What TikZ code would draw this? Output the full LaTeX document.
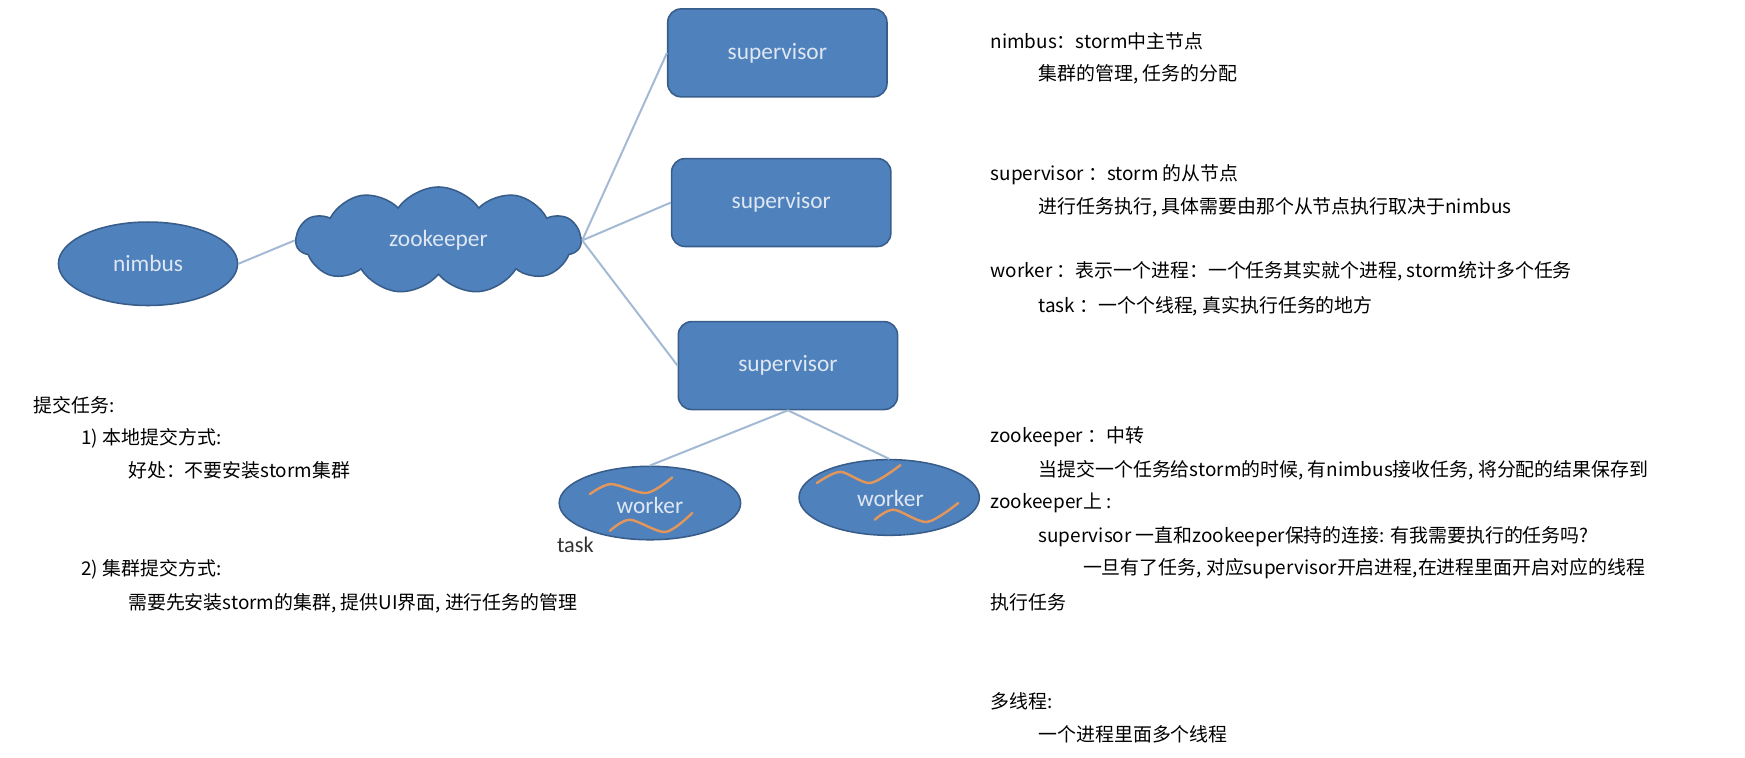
\documentclass[tikz,border=0pt]{standalone}
\usepackage{fontspec}
\newfontfamily\zhfont{Noto Sans CJK SC}
\newfontfamily\drawfont{Carlito}
\usetikzlibrary{shapes.geometric, shapes.symbols, positioning}
\definecolor{boxblue}{RGB}{79,129,189}
\definecolor{boxline}{RGB}{56,93,138}
\definecolor{boxtext}{RGB}{222,231,242}
\definecolor{linkblue}{RGB}{164,186,212}
\definecolor{waveorange}{RGB}{226,150,90}

\begin{document}
\begin{tikzpicture}[x=1pt, y=-1pt, inner sep=0pt, %scale in px
  every node/.style = {font=\drawfont\fontsize{21}{24}\selectfont, text=boxtext},
  master/.style = {ellipse, draw=boxline, fill=boxblue, line width=1.4pt},
  slave/.style = {rectangle, rounded corners=12pt, draw=boxline, fill=boxblue, line width=1.4pt,
    minimum width=197pt, minimum height=79pt},
  relay/.style = {cloud, cloud puffs=11, cloud puff arc=110, aspect=2.7, draw=boxline, fill=boxblue,
    line width=1.4pt, minimum width=256pt, minimum height=96pt},
  note/.style = {anchor=west, text=black, font=\zhfont\fontsize{17}{20}\selectfont},
  link/.style = {draw=linkblue, line width=1.8pt},
  wave/.style = {draw=waveorange, line width=2.2pt, line cap=round}]
  \useasboundingbox (0,0) rectangle (1568,681);

  % cluster
  \node[master, minimum width=161pt, minimum height=75pt] (nimbus) at (133,237) {nimbus};
  \node[relay] (zk) at (394,216) {zookeeper};
  \node[slave] (sup1) at (698.5,47.5) {supervisor};
  \node[slave] (sup2) at (702,182) {supervisor};
  \node[slave] (sup3) at (708,328.5) {supervisor};
  \node[master, minimum width=163pt, minimum height=66pt] (w1) at (584,452) {};
  \node[master, minimum width=162pt, minimum height=68pt] (w2) at (799,447) {};
  \node[text=black!80, font=\drawfont\fontsize{20}{24}\selectfont] (task) at (517,490) {task};

  \draw[link] (nimbus.east) -- (zk.west);
  \draw[link] (zk.east) -- (sup1.west);
  \draw[link] (zk.east) -- (sup2.west);
  \draw[link] (zk.east) -- (sup3.west);
  \draw[link] (sup3.south) -- (w1.north);
  \draw[link] (sup3.south) -- (w2.north);

  % threads in the workers
  \begin{scope}[shift={(w1.center)}]
    \draw[wave] plot[smooth] coordinates {(-54,-8) (-35,-17) (-3,-9) (20,-23)};
    \draw[wave] plot[smooth] coordinates {(-36,25) (-18,15) (14,26) (38,9)};
    \node (w1label) at (0,2) {worker};
  \end{scope}
  \begin{scope}[shift={(w2.center)}]
    \draw[wave] plot[smooth] coordinates {(-65,-13) (-44,-23) (-17,-13) (10,-29)};
    \draw[wave] plot[smooth] coordinates {(-13,20) (4,11) (34,22) (62,5)};
    \node (w2label) at (1,1) {worker};
  \end{scope}

  % notes on the left
  \node[note] (n1) at (30,364) {提交任务:};
  \node[note] (n2) at (73,394) {1) 本地提交方式:};
  \node[note] (n3) at (115,423) {好处：不要安装storm集群};
  \node[note] (n4) at (73,512) {2) 集群提交方式:};
  \node[note] (n5) at (115,542) {需要先安装storm的集群, 提供UI界面, 进行任务的管理};

  % notes on the right
  \node[note] (r1) at (890,37) {nimbus：storm中主节点};
  \node[note] (r2) at (933,67) {集群的管理, 任务的分配};
  \node[note] (r3) at (890,157) {supervisor ：storm 的从节点};
  \node[note] (r4) at (933,186) {进行任务执行, 具体需要由那个从节点执行取决于nimbus};
  \node[note] (r5) at (890,244) {worker ：表示一个进程：一个任务其实就个进程, storm统计多个任务};
  \node[note] (r6) at (933,275) {task ：一个个线程, 真实执行任务的地方};
  \node[note] (r7) at (890,392) {zookeeper ：中转};
  \node[note] (r8) at (933,423) {当提交一个任务给storm的时候, 有nimbus接收任务, 将分配的结果保存到};
  \node[note] (r9) at (890,452) {zookeeper上 :};
  \node[note] (r10) at (933,482) {supervisor 一直和zookeeper保持的连接: 有我需要执行的任务吗?};
  \node[note] (r11) at (973,511) {一旦有了任务, 对应supervisor开启进程,在进程里面开启对应的线程};
  \node[note] (r12) at (890,541) {执行任务};
  \node[note] (r13) at (890,630) {多线程:};
  \node[note] (r14) at (933,660) {一个进程里面多个线程};
\end{tikzpicture}
\end{document}
